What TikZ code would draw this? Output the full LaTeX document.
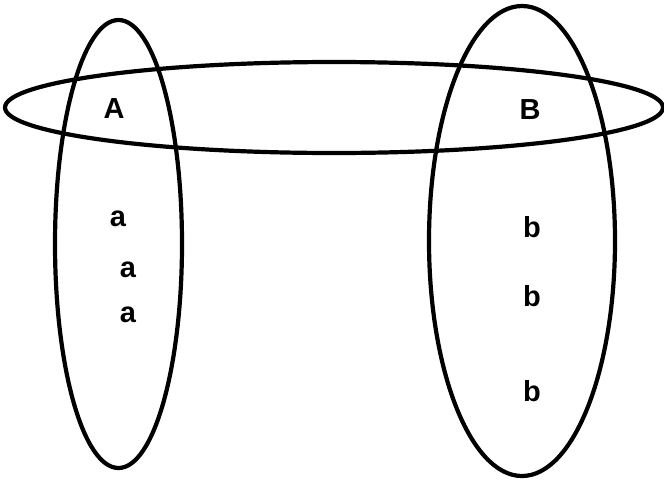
\documentclass[tikz,border=0pt]{standalone}
\usepackage{fontspec}
\setmainfont{Liberation Sans}
\usetikzlibrary{shapes.geometric}
\begin{document}
\begin{tikzpicture}[x=1pt,y=-1pt,
  setshape/.style={ellipse, draw, line width=4.2pt, inner sep=0pt},
  lbl/.style={font=\fontsize{29}{31}\selectfont\bfseries, inner sep=0pt}]
\useasboundingbox[fill=white] (0,0) rectangle (664,480);
\node[setshape, minimum width=127pt, minimum height=448pt] (L) at (118.5,244) {};
\node[setshape, minimum width=186pt, minimum height=470pt] (R) at (522,241) {};
\node[setshape, minimum width=658pt, minimum height=91pt] (H) at (334,107.5) {};
\node[lbl] (A) at (114,109) {A};
\node[lbl] (B) at (530,110) {B};
\node[lbl] (a1) at (118,219) {a};
\node[lbl] (a2) at (128,270) {a};
\node[lbl] (a3) at (128,315) {a};
\node[lbl] (b1) at (532,227) {b};
\node[lbl] (b2) at (532,296) {b};
\node[lbl] (b3) at (532,391) {b};
\end{tikzpicture}
\end{document}
